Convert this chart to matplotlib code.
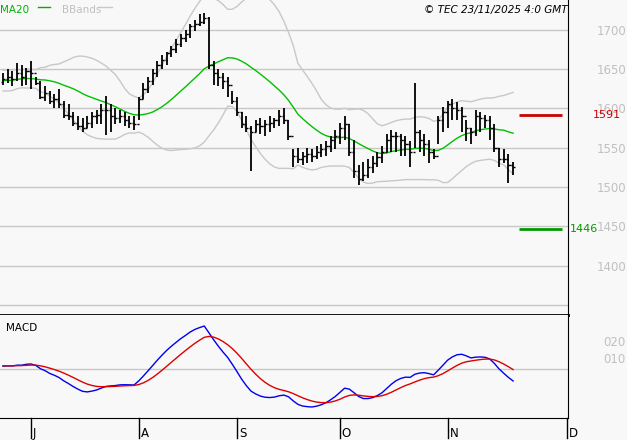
import numpy as np
import pandas as pd
import matplotlib
matplotlib.use("Agg")
import matplotlib.pyplot as plt
from matplotlib.transforms import blended_transform_factory

# warm-up closes (before visible window) used for indicators
warmup = [1625, 1632, 1640, 1628, 1620, 1635, 1645, 1638, 1630, 1622,
          1628, 1640, 1648, 1642, 1635, 1625, 1630, 1638, 1645, 1640,
          1632, 1628, 1636, 1642, 1638, 1634]

high = [1645,1650,1648,1658,1655,1652,1660,1640,1635,1628,1622,1618,1625,1610,1605,1595,1590,1588,1590,1595,
        1598,1605,1616,1605,1600,1598,1595,1590,1590,1615,1632,1640,1650,1660,1668,1672,1680,1688,1695,1700,
        1708,1712,1720,1722,1716,1660,1650,1645,1640,1622,1615,1595,1590,1578,1585,1588,1585,1590,1588,1598,
        1600,1585,1548,1550,1545,1550,1548,1552,1555,1558,1565,1572,1582,1590,1580,1560,1528,1532,1535,1540,
        1545,1552,1568,1572,1570,1568,1565,1558,1632,1572,1568,1560,1548,1590,1602,1610,1612,1608,1602,1585,
        1575,1598,1595,1592,1590,1580,1550,1548,1542,1532]
low = [1630,1632,1628,1635,1628,1630,1625,1630,1612,1610,1605,1600,1600,1588,1585,1578,1572,1570,1575,1575,
       1580,1580,1566,1570,1580,1582,1578,1575,1572,1585,1612,1620,1630,1640,1650,1655,1665,1670,1678,1685,
       1690,1698,1705,1708,1650,1630,1628,1625,1615,1605,1590,1575,1570,1520,1570,1568,1565,1570,1575,1578,
       1580,1560,1525,1530,1528,1530,1532,1535,1538,1540,1545,1548,1555,1560,1540,1512,1502,1508,1512,1518,
       1525,1530,1545,1545,1545,1540,1540,1525,1550,1545,1540,1530,1535,1555,1570,1575,1585,1585,1570,1558,
       1555,1565,1570,1575,1560,1545,1525,1530,1505,1515]
close = [1637,1640,1638,1645,1640,1648,1645,1632,1615,1620,1610,1612,1605,1592,1590,1582,1578,1575,1582,1590,
         1592,1598,1598,1590,1588,1590,1585,1582,1580,1612,1625,1635,1645,1655,1662,1670,1675,1682,1690,1695,
         1705,1708,1710,1715,1655,1645,1640,1635,1630,1610,1595,1580,1575,1570,1580,1578,1580,1582,1585,1590,
         1585,1565,1540,1535,1540,1542,1540,1545,1548,1552,1560,1565,1575,1580,1545,1520,1510,1515,1525,1530,
         1538,1545,1560,1565,1565,1560,1555,1545,1570,1560,1555,1545,1540,1585,1595,1605,1600,1598,1590,1575,
         1570,1590,1588,1585,1575,1550,1535,1535,1528,1525]
support = 1446
resistance = 1591
months = ["J", "A", "S", "O", "N"]
month_idx = [6, 29, 50, 72, 95]

n = len(close)
allc = pd.Series(warmup + close)
opens = [warmup[-1]] + close[:-1]
ma = allc.rolling(20).mean().values[-n:]
sd = allc.rolling(20).std(ddof=0).values[-n:]
up, lo = ma + 2 * sd, ma - 2 * sd
e12 = allc.ewm(span=12, adjust=False).mean()
e26 = allc.ewm(span=26, adjust=False).mean()
macd = (e12 - e26)
sig = macd.ewm(span=9, adjust=False).mean()
macd, sig = macd.values[-n:], sig.values[-n:]

bg = "#f8f8f8"
fig = plt.figure(figsize=(6.27, 4.40), dpi=100, facecolor=bg)
ax = fig.add_axes([0, 125/440, 568/627, 315/440], facecolor=bg)
ax2 = fig.add_axes([0, 22/440, 568/627, 103/440], facecolor=bg)
x = np.arange(n)
xl = (-3/4.68, (568-3)/4.68)
for a in (ax, ax2):
    a.set_xlim(*xl)
    for s in ("left", "top"):
        a.spines[s].set_visible(False)
    a.spines["right"].set_color("black")
    a.spines["bottom"].set_color("black")
    a.tick_params(axis="x", bottom=False, labelbottom=False)
ax.spines["bottom"].set_linewidth(2)

ax.set_ylim(1337, 1738)
for v in range(1350, 1701, 50):
    ax.axhline(v, color="#c8c8c8", lw=1, zorder=0)
ax.yaxis.tick_right()
ax.set_yticks(range(1400, 1701, 50))
ax.tick_params(axis="y", right=False, colors="#c0c0c0", labelsize=8.5, pad=17)

ax.plot(x, up, color="#c8c8c8", lw=1)
ax.plot(x, lo, color="#c8c8c8", lw=1)
ax.plot(x, ma, color="#00c000", lw=1)
ax.vlines(x, low, high, color="black", lw=1.3)
ax.hlines(opens, x - 0.45, x, color="black", lw=1)
ax.hlines(close, x, x + 0.45, color="black", lw=1)

ax.hlines(resistance, 110.3, 119.5, color="#cc0000", lw=2)
ax.hlines(support, 110.3, 119.5, color="#009900", lw=2)
ax.text(126, resistance, str(resistance), color="#cc0000", fontsize=8, va="center", clip_on=False)
ax.text(121.2, support, str(support), color="#009900", fontsize=8, va="center", clip_on=False)

fig.text(0.0, 437/440 - 0.005, "MA20", color="#00b000", fontsize=7.5, va="top")
fig.add_artist(plt.Line2D([38/627, 50/627], [433/440, 433/440], color="#00b000", lw=1))
fig.text(62/627, 437/440 - 0.005, "BBands", color="#c0c0c0", fontsize=7.5, va="top")
fig.add_artist(plt.Line2D([98/627, 112/627], [433/440, 433/440], color="#c8c8c8", lw=1))
fig.text(568/627, 437/440 - 0.005, "© TEC 23/11/2025 4:0 GMT", color="black", fontsize=7.5,
         va="top", ha="right", style="italic")

peak = np.max(macd)
R = peak / 0.417
ax2.set_ylim(-0.476 * R, 0.524 * R)
ax2.axhline(0, color="#c8c8c8", lw=1, zorder=0)
ax2.plot(x, macd, color="#0000ee", lw=1)
ax2.plot(x, sig, color="#dd0000", lw=1)
ax2.yaxis.tick_right()
ax2.set_yticks([0.107 * R, 0.272 * R])
ax2.set_yticklabels(["010", "020"])
ax2.tick_params(axis="y", right=False, colors="#c0c0c0", labelsize=8.5, pad=22)
ax2.text(0.01, 0.92, "MACD", transform=ax2.transAxes, fontsize=7.5, va="top")

tr = blended_transform_factory(ax2.transData, fig.transFigure)
for mi, lab in zip(month_idx + [xl[1] - 0.3], months + ["D"]):
    fig.add_artist(plt.Line2D([mi, mi], [2/440, 22/440], color="black", lw=1, transform=tr))
    ax2.text(mi + 0.4, 0.0, lab, transform=tr, fontsize=8.5, va="bottom", ha="left")

fig.savefig("out.png", dpi=100, facecolor=bg)
